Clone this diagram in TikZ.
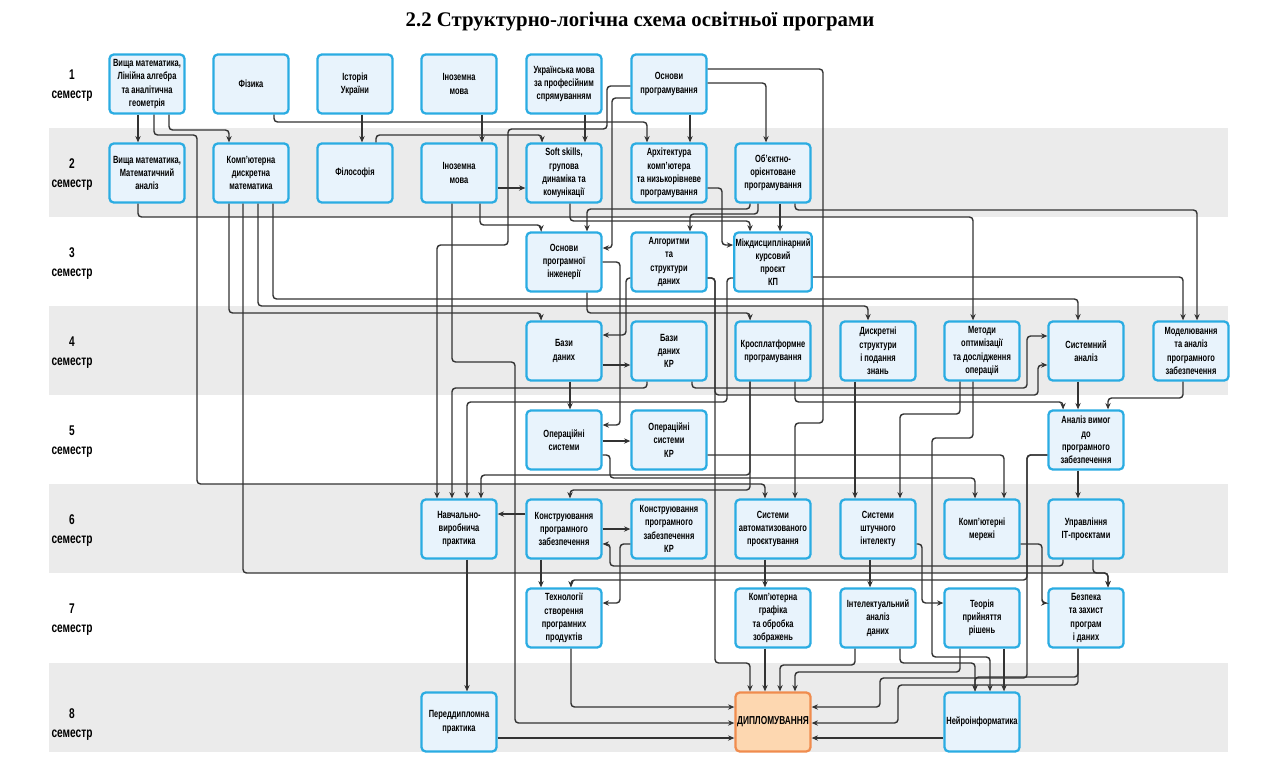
\documentclass[tikz,border=0pt]{standalone}
\usepackage{fontspec}
\newfontfamily\condfont[FakeStretch=0.72]{Liberation Sans}
\newfontfamily\titlefont{Liberation Serif}
\usetikzlibrary{arrows.meta}

\definecolor{boxblue}{HTML}{2AACE2}
\definecolor{boxfill}{HTML}{E8F3FC}
\definecolor{bandgray}{HTML}{EBEBEB}
\definecolor{wire}{HTML}{333333}
\definecolor{finalfill}{HTML}{FDD7B0}
\definecolor{finaldraw}{HTML}{F08C4E}

\newcommand*{\bandleft}{49}
\newcommand*{\bandright}{1228}
\newcommand*{\boxw}{1.875cm}
\newcommand*{\boxh}{1.475cm}
\newcommand*{\coursefont}{\condfont\bfseries\fontsize{7.4}{9.4}\selectfont}
\newcommand*{\finalfont}{\condfont\bfseries\fontsize{8.2}{9.4}\selectfont}
\newcommand*{\semfont}{\condfont\bfseries\fontsize{10}{13.5}\selectfont}

\begin{document}
\begin{tikzpicture}
[
	x=0.025cm, y=-0.025cm,
	course/.style={draw=boxblue,fill=boxfill,line width=1.6pt,rounded corners=3pt,minimum width=\boxw,minimum height=\boxh,inner sep=1pt,align=center,font=\coursefont},
	final/.style={course,draw=finaldraw,fill=finalfill,font=\finalfont},
	semlabel/.style={align=center,font=\semfont},
	link/.style={draw=wire,line width=1pt,rounded corners=2.5pt,-{Stealth[length=4.5pt,width=3.8pt]}}
]

	\fill[white] (0,0) rectangle (1280,772);
	\useasboundingbox (0,0) rectangle (1280,772);

	% bands
	\foreach \y in {128,306,484,663} {
		\fill[bandgray] (\bandleft,\y) rectangle (\bandright,\y+89);
	}

	% title
	\node[font=\titlefont\bfseries\fontsize{14.8}{17}\selectfont] (title) at (640,22) {2.2 Структурно-логічна схема освітньої програми};

	% semester labels
	\foreach \n/\y in {1/86,2/175,3/264,4/353,5/442,6/531,7/620,8/725} {
		\node[semlabel] (sem\n) at (72,\y) {\n\\семестр};
	}

	% courses
	\node[course] (hm1) at (147,84) {Вища математика,\\Лінійна алгебра\\та аналітична\\геометрія};
	\node[course] (phys) at (251,84) {Фізика};
	\node[course] (hist) at (355,84) {Історія\\України};
	\node[course] (lang1) at (459,84) {Іноземна\\мова};
	\node[course] (ukr) at (564,84) {Українська мова\\за професійним\\спрямуванням};
	\node[course] (prog) at (669,84) {Основи\\програмування};

	\node[course] (hm2) at (147,173) {Вища математика,\\Математичний\\аналіз};
	\node[course] (dmath) at (251,173) {Комп’ютерна\\дискретна\\математика};
	\node[course] (phil) at (355,173) {Філософія};
	\node[course] (lang2) at (459,173) {Іноземна\\мова};
	\node[course] (soft) at (564,173) {Soft skills,\\групова\\динаміка та\\комунікації};
	\node[course] (arch) at (669,173) {Архітектура\\комп’ютера\\та низькорівневе\\програмування};
	\node[course] (oop) at (773,173) {Об’єктно-\\орієнтоване\\програмування};

	\node[course] (seng) at (564,262) {Основи\\програмної\\інженерії};
	\node[course] (algo) at (669,262) {Алгоритми\\та\\структури\\даних};
	\node[course] (ipr) at (773,262) {Міждисциплінарний\\курсовий\\проєкт\\КП};

	\node[course] (db) at (564,351) {Бази\\даних};
	\node[course] (dbkr) at (669,351) {Бази\\даних\\КР};
	\node[course] (xplat) at (773,351) {Кросплатформне\\програмування};
	\node[course] (dstruct) at (878,351) {Дискретні\\структури\\і подання\\знань};
	\node[course] (optim) at (982,351) {Методи\\оптимізації\\та дослідження\\операцій};
	\node[course] (sysan) at (1086,351) {Системний\\аналіз};
	\node[course] (model) at (1191,351) {Моделювання\\та аналіз\\програмного\\забезпечення};

	\node[course] (os) at (564,440) {Операційні\\системи};
	\node[course] (oskr) at (669,440) {Операційні\\системи\\КР};
	\node[course] (req) at (1086,440) {Аналіз вимог\\до\\програмного\\забезпечення};

	\node[course] (prac) at (459,529) {Навчально-\\виробнича\\практика};
	\node[course] (swc) at (564,529) {Конструювання\\програмного\\забезпечення};
	\node[course] (swckr) at (669,529) {Конструювання\\програмного\\забезпечення\\КР};
	\node[course] (cad) at (773,529) {Системи\\автоматизованого\\проєктування};
	\node[course] (ai) at (878,529) {Системи\\штучного\\інтелекту};
	\node[course] (net) at (982,529) {Комп’ютерні\\мережі};
	\node[course] (itpm) at (1086,529) {Управління\\ІТ-проєктами};

	\node[course] (tech) at (564,618) {Технології\\створення\\програмних\\продуктів};
	\node[course] (graph) at (773,618) {Комп’ютерна\\графіка\\та обробка\\зображень};
	\node[course] (mining) at (878,618) {Інтелектуальний\\аналіз\\даних};
	\node[course] (decision) at (982,618) {Теорія\\прийняття\\рішень};
	\node[course] (secur) at (1086,618) {Безпека\\та захист\\програм\\і даних};

	\node[course] (predip) at (459,722) {Переддипломна\\практика};
	\node[final] (diploma) at (773,722) {ДИПЛОМУВАННЯ};
	\node[course] (neuro) at (982,722) {Нейроінформатика};

	% links from semester 1
	\draw[link] (138,0 |- hm1.south) -- (138,0 |- hm2.north);
	\draw[link] (169,0 |- hm1.south) |- (229,130) -- (229,0 |- dmath.north);
	\draw[link] (154,0 |- hm1.south) |- (197,135) |- (765,484) -- (765,0 |- cad.north);
	\draw[link] (362,0 |- hist.south) -- (362,0 |- phil.north);
	\draw[link] (274,0 |- phys.south) |- (647,122) -- (647,0 |- arch.north);
	\draw[link] (482,0 |- lang1.south) -- (482,0 |- lang2.north);
	\draw[link] (585,0 |- ukr.south) -- (585,0 |- soft.north);
	\draw[link] (690,0 |- prog.south) -- (690,0 |- arch.north);
	\draw[link] (prog.east |- 0,83) -| (766,0 |- oop.north);
	\draw[link] (prog.east |- 0,69) -| (823,423) -| (795,0 |- cad.north);
	\draw[link] (prog.west |- 0,86) -| (607,129) -| (508,245) -| (437,0 |- prac.north);
	\draw[link] (prog.west |- 0,98) -| (612,248) -- (seng.east |- 0,248);

	% links from semester 2
	\draw[link] (376,0 |- phil.north) |- (542,135) -- (542,0 |- soft.north);
	\draw[link] (lang2.east |- 0,188) -- (soft.west |- 0,188);
	\draw[link] (138,0 |- hm2.south) |- (973,217) -- (973,0 |- optim.north);
	\draw[link] (229,0 |- dmath.south) |- (541,313) -- (541,0 |- db.north);
	\draw[link] (243,0 |- dmath.south) |- (1108,573) -- (1108,0 |- secur.north);
	\draw[link] (258,0 |- dmath.south) |- (868,306) -- (868,0 |- dstruct.north);
	\draw[link] (273,0 |- dmath.south) |- (1078,299) -- (1078,0 |- sysan.north);
	\draw[link] (452,0 |- lang2.south) |- (515,362) |- (diploma.west |- 0,723);
	\draw[link] (480,0 |- lang2.south) |- (541,225) -- (541,0 |- seng.north);
	\draw[link] (570,0 |- soft.south) |- (750,221) -- (750,0 |- ipr.north);
	\draw[link] (750,0 |- oop.south) |- (587,209) -- (587,0 |- seng.north);
	\draw[link] (758,0 |- oop.south) |- (690,214) -- (690,0 |- algo.north);
	\draw[link] (780,0 |- oop.south) -- (780,0 |- ipr.north);
	\draw[link] (795,0 |- oop.south) |- (1197,210) -- (1197,0 |- model.north);
	\draw[link] (arch.east |- 0,188) -| (722,245) -- (ipr.west |- 0,245);

	% links from semester 3
	\draw[link] (ipr.east |- 0,277) -| (1183,0 |- model.north);
	\draw[link] (587,0 |- seng.south) |- (750,313) -- (750,0 |- xplat.north);
	\draw[link] (seng.east |- 0,262) -| (620,425) -- (os.east |- 0,425);
	\draw[link] (algo.west |- 0,278) -| (626,335) -- (db.east |- 0,335);
	\draw[link] (algo.east |- 0,278) -| (715,663) -| (750,0 |- diploma.north);
	\draw[link] (algo.east |- 0,278) -| (715,395) -| (1038,365) -- (sysan.west |- 0,365);
	\draw[link] (ipr.west |- 0,278) -| (727,402) -| (467,0 |- prac.north);

	% links from semester 4
	\draw[link] (db.east |- 0,365) -- (dbkr.west |- 0,365);
	\draw[link] (570,0 |- db.south) -- (570,0 |- os.north);
	\draw[link] (647,0 |- dbkr.south) |- (452,388) -- (452,0 |- prac.north);
	\draw[link] (692,0 |- dbkr.south) |- (1027,388) |- (sysan.west |- 0,336);
	\draw[link] (750,0 |- xplat.south) |- (570,490) -- (570,0 |- swc.north);
	\draw[link] (750,0 |- xplat.south) |- (481,475) -- (481,0 |- prac.north);
	\draw[link] (795,0 |- xplat.south) |- (1063,402) -- (1063,0 |- req.north);
	\draw[link] (855,0 |- dstruct.south) -- (855,0 |- ai.north);
	\draw[link] (960,0 |- optim.south) |- (900,414) -- (900,0 |- ai.north);
	\draw[link] (973,0 |- optim.south) |- (932,438) |- (990,657) -- (990,0 |- neuro.north);
	\draw[link] (1078,0 |- sysan.south) -- (1078,0 |- req.north);
	\draw[link] (1183,0 |- model.south) |- (1108,398) -- (1108,0 |- req.north);

	% links from semester 5
	\draw[link] (os.east |- 0,441) -- (oskr.west |- 0,441);
	\draw[link] (os.east |- 0,455) -| (610,478) -| (975,0 |- net.north);
	\draw[link] (oskr.east |- 0,455) -| (1004,0 |- net.north);
	\draw[link] (1078,0 |- req.south) -- (1078,0 |- itpm.north);
	\draw[link] (req.west |- 0,455) -| (1027,580) -| (571,0 |- tech.north);
	\draw[link] (req.west |- 0,455) -| (1027,678) -| (880,707) -- (diploma.east |- 0,707);

	% links from semester 6
	\draw[link] (swc.west |- 0,514) -- (prac.east |- 0,514);
	\draw[link] (swc.east |- 0,529) -- (swckr.west |- 0,529);
	\draw[link] (541,0 |- swc.south) -- (541,0 |- tech.north);
	\draw[link] (swckr.west |- 0,544) -| (620,603) -- (tech.east |- 0,603);
	\draw[link] (1063,0 |- itpm.south) |- (610,566) |- (swc.east |- 0,544);
	\draw[link] (1093,0 |- itpm.south) |- (1108,573) -- (1108,0 |- secur.north);
	\draw[link] (765,0 |- cad.south) -- (765,0 |- graph.north);
	\draw[link] (870,0 |- ai.south) -- (870,0 |- mining.north);
	\draw[link] (ai.east |- 0,544) -| (922,603) -- (decision.west |- 0,603);
	\draw[link] (net.east |- 0,544) -| (1042,603) -- (secur.west |- 0,603);
	\draw[link] (467,0 |- prac.south) -- (467,0 |- predip.north);

	% links from semester 7
	\draw[link] (571,0 |- tech.south) |- (diploma.west |- 0,707);
	\draw[link] (765,0 |- graph.south) -- (765,0 |- diploma.north);
	\draw[link] (855,0 |- mining.south) |- (780,665) -- (780,0 |- diploma.north);
	\draw[link] (900,0 |- mining.south) |- (975,663) -- (975,0 |- neuro.north);
	\draw[link] (960,0 |- decision.south) |- (795,672) -- (795,0 |- diploma.north);
	\draw[link] (1004,0 |- decision.south) -- (1004,0 |- neuro.north);
	\draw[link] (1078,0 |- secur.south) |- (975,677) -- (975,0 |- neuro.north);
	\draw[link] (1078,0 |- secur.south) |- (898,685) |- (diploma.east |- 0,723);

	% links into the diploma
	\draw[link] (predip.east |- 0,738) -- (diploma.west |- 0,738);
	\draw[link] (neuro.west |- 0,738) -- (diploma.east |- 0,738);

\end{tikzpicture}
\end{document}
